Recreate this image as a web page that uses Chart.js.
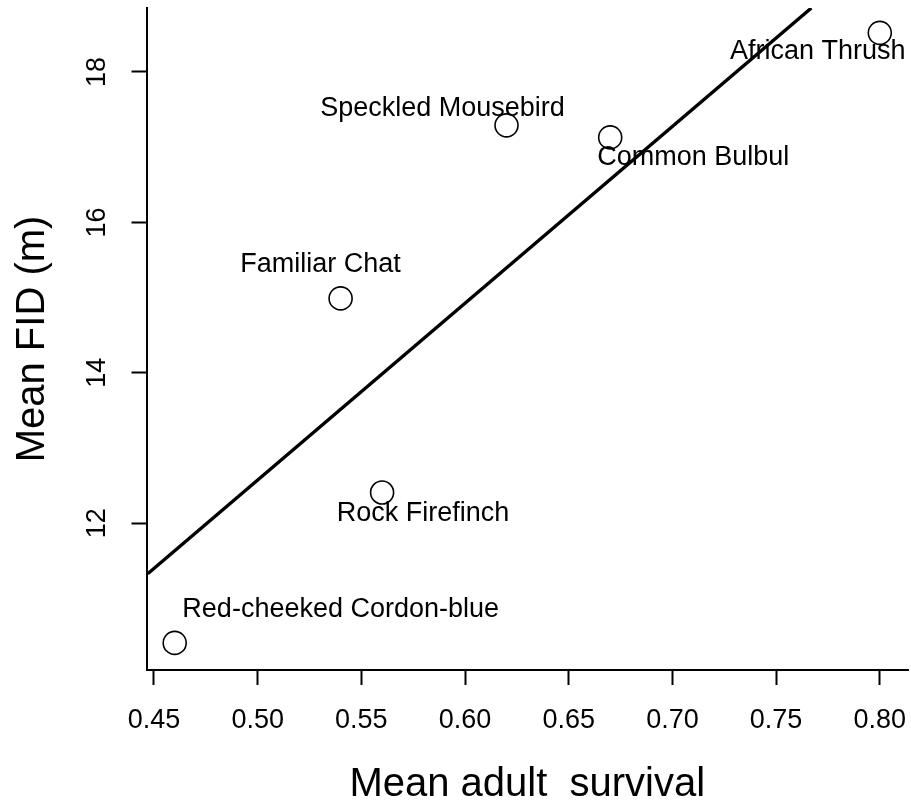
<!DOCTYPE html>
<html>
<head>
<meta charset="utf-8">
<script src="https://cdn.jsdelivr.net/npm/chart.js@4.4.0/dist/chart.umd.min.js"></script>
<style>
  html, body { margin: 0; padding: 0; background: #fff; }
</style>
</head>
<body>
<canvas id="chart" width="911" height="809"></canvas>
<script>
// data
const species = ["African Thrush", "Speckled Mousebird", "Common Bulbul",
                 "Familiar Chat", "Rock Firefinch", "Red-cheeked Cordon-blue"];
const survival = [0.80, 0.62, 0.67, 0.54, 0.56, 0.46];
const fid = [18.52, 17.29, 17.13, 14.99, 12.41, 10.41];

// fitted regression line, two ends
const fitX = [0.447, 0.767];
const fitY = [11.33, 18.85];

const xTicks = [0.45, 0.50, 0.55, 0.60, 0.65, 0.70, 0.75, 0.80];
const yTicks = [12, 14, 16, 18];

const FONT = '"Liberation Sans", Arial, sans-serif';

// where each species name sits relative to its point (px)
const labelOffsets = [[-62, 19], [-64, -17], [83, 20], [-20, -34], [41, 21], [166, -33]];

const pointLabels = {
  id: "pointLabels",
  afterDatasetsDraw(chart) {
    const { ctx, scales: { x, y } } = chart;
    ctx.save();
    ctx.font = "27px " + FONT;
    ctx.fillStyle = "#000";
    ctx.textAlign = "center";
    ctx.textBaseline = "middle";
    species.forEach((s, i) => {
      ctx.fillText(s,
        x.getPixelForValue(survival[i]) + labelOffsets[i][0],
        y.getPixelForValue(fid[i]) + labelOffsets[i][1]);
    });
    ctx.restore();
  }
};

// R style: y tick labels read bottom to top
const yTickLabels = {
  id: "yTickLabels",
  afterDraw(chart) {
    const { ctx } = chart;
    const y = chart.scales.y;
    ctx.save();
    ctx.font = "27px " + FONT;
    ctx.fillStyle = "#000";
    ctx.textAlign = "center";
    ctx.textBaseline = "middle";
    y.ticks.forEach(t => {
      ctx.save();
      ctx.translate(98, y.getPixelForValue(t.value));
      ctx.rotate(-Math.PI / 2);
      ctx.fillText(String(t.value), 0, 0);
      ctx.restore();
    });
    ctx.restore();
  }
};

const axisGrid = {
  display: true,
  drawOnChartArea: false,
  drawTicks: true,
  tickLength: 15,
  tickColor: "#000",
  tickWidth: 2
};

new Chart(document.getElementById("chart"), {
  type: "scatter",
  data: {
    datasets: [
      {
        label: "species",
        data: survival.map((v, i) => ({ x: v, y: fid[i] })),
        pointRadius: 11.5,
        pointHoverRadius: 11.5,
        pointBorderWidth: 1.6,
        borderColor: "#000",
        backgroundColor: "rgba(0,0,0,0)",
        showLine: false
      },
      {
        label: "fit",
        type: "line",
        data: fitX.map((v, i) => ({ x: v, y: fitY[i] })),
        borderColor: "#000",
        borderWidth: 3.4,
        pointRadius: 0,
        fill: false
      }
    ]
  },
  options: {
    responsive: false,
    animation: false,
    devicePixelRatio: 1,
    layout: { autoPadding: false, padding: { top: 8, right: 3, left: 0, bottom: 0 } },
    plugins: { legend: { display: false }, tooltip: { enabled: false } },
    scales: {
      x: {
        type: "linear",
        min: 0.4464,
        max: 0.8136,
        afterBuildTicks: s => { s.ticks = xTicks.map(v => ({ value: v })); },
        afterFit: s => { s.height = 139; s.paddingLeft = 0; s.paddingRight = 0; },
        border: { display: true, color: "#000", width: 2 },
        grid: axisGrid,
        ticks: {
          color: "#000",
          font: { family: FONT, size: 27 },
          padding: 19,
          maxRotation: 0,
          callback: v => v.toFixed(2)
        },
        title: {
          display: true,
          text: "Mean adult  survival",
          color: "#000",
          font: { family: FONT, size: 40 },
          padding: { top: 0, bottom: 0 }
        }
      },
      y: {
        type: "linear",
        min: 10.05,
        max: 18.85,
        afterBuildTicks: s => { s.ticks = yTicks.map(v => ({ value: v })); },
        afterFit: s => { s.width = 146.5; },
        border: { display: true, color: "#000", width: 2 },
        grid: axisGrid,
        ticks: { display: false },
        title: {
          display: true,
          text: "Mean FID (m)",
          color: "#000",
          font: { family: FONT, size: 40 },
          padding: { top: 9, bottom: 0 }
        }
      }
    }
  },
  plugins: [pointLabels, yTickLabels]
});
</script>
</body>
</html>
